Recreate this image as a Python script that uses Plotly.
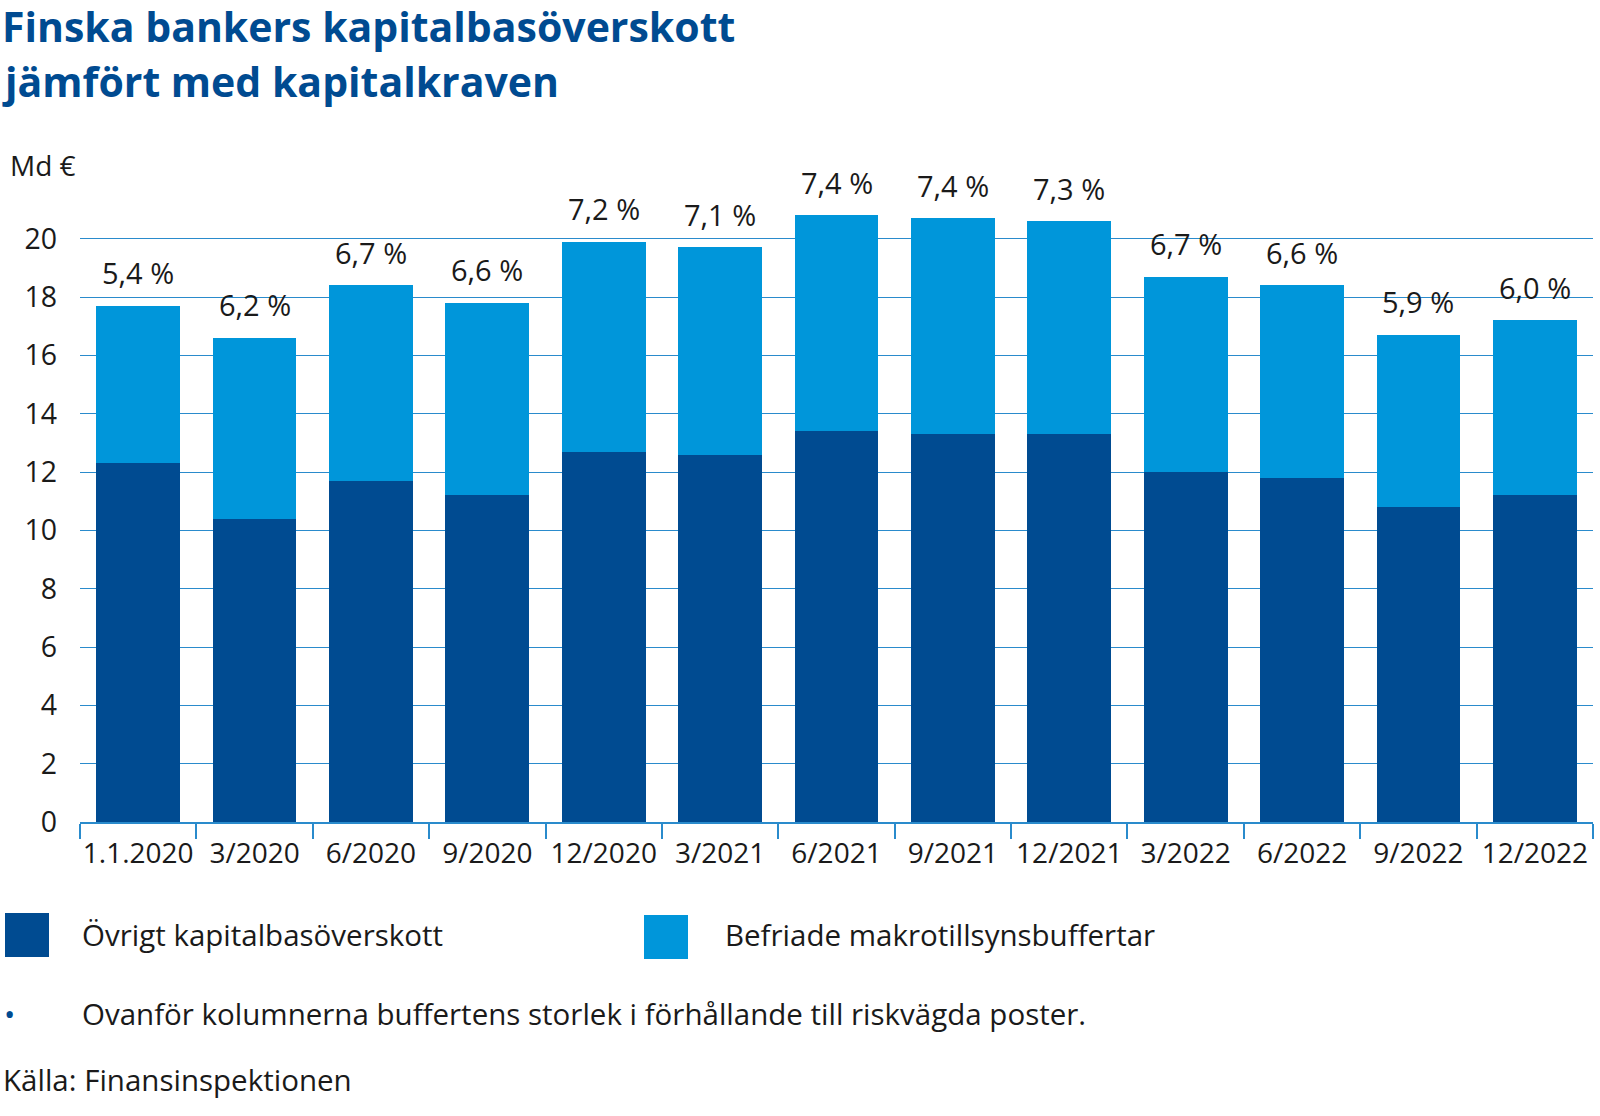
import plotly.graph_objects as go

categories = ["1.1.2020", "3/2020", "6/2020", "9/2020", "12/2020", "3/2021", "6/2021",
              "9/2021", "12/2021", "3/2022", "6/2022", "9/2022", "12/2022"]
other_surplus = [12.3, 10.4, 11.7, 11.2, 12.7, 12.6, 13.4, 13.3, 13.3, 12.0, 11.8, 10.8, 11.2]
totals = [17.7, 16.6, 18.4, 17.8, 19.9, 19.7, 20.8, 20.7, 20.6, 18.7, 18.4, 16.7, 17.2]
buffer_pct = ["5,4 %", "6,2 %", "6,7 %", "6,6 %", "7,2 %", "7,1 %", "7,4 %",
              "7,4 %", "7,3 %", "6,7 %", "6,6 %", "5,9 %", "6,0 %"]
released_values = [round(t - o, 2) for t, o in zip(totals, other_surplus)]
yticks = [0, 2, 4, 6, 8, 10, 12, 14, 16, 18, 20]
title_lines = ["Finska bankers kapitalbasöverskott", "jämfört med kapitalkraven"]

DARK = "#004b91"
LIGHT = "#0096da"
GRID = "#2a8bcc"
TXT = "#1a1a1a"
FONT = "Open Sans"

W, H = 1600, 1116
L, R, T, B = 80, 7, 192, 294
PW, PH = W - L - R, H - T - B

fig = go.Figure()
fig.add_trace(go.Bar(x=categories, y=other_surplus, name="Övrigt kapitalbasöverskott",
                     marker=dict(color=DARK, line=dict(width=0)), showlegend=False))
fig.add_trace(go.Bar(x=categories, y=released_values, name="Befriade makrotillsynsbuffertar",
                     marker=dict(color=LIGHT, line=dict(width=0)), showlegend=False))

annotations = []
for c, t, p in zip(categories, totals, buffer_pct):
    annotations.append(dict(x=c, y=t, xref="x", yref="y", text=p, showarrow=False,
                            yanchor="middle", yshift=33,
                            font=dict(family=FONT, size=29, color=TXT)))

def px_x(px):
    return (px - L) / PW

def px_y(py):
    return (H - B - py) / PH

# title (two lines)
for line, ypx in zip(title_lines, [26, 81]):
    annotations.append(dict(x=px_x(0), y=px_y(ypx), xref="paper", yref="paper", xanchor="left",
                            yanchor="middle", align="left", showarrow=False,
                            text="<b>" + line + "</b>",
                            font=dict(family=FONT, size=41, color="#004b91")))
# unit
annotations.append(dict(x=px_x(8), y=px_y(165), xref="paper", yref="paper", xanchor="left",
                        yanchor="middle", showarrow=False, text="Md €",
                        font=dict(family=FONT, size=28, color=TXT)))
# legend texts
annotations.append(dict(x=px_x(80), y=px_y(934), xref="paper", yref="paper", xanchor="left",
                        yanchor="middle", showarrow=False, text="Övrigt kapitalbasöverskott",
                        font=dict(family=FONT, size=29.5, color=TXT)))
annotations.append(dict(x=px_x(723), y=px_y(934), xref="paper", yref="paper", xanchor="left",
                        yanchor="middle", showarrow=False, text="Befriade makrotillsynsbuffertar",
                        font=dict(family=FONT, size=29.5, color=TXT)))
# note
annotations.append(dict(x=px_x(2), y=px_y(1013), xref="paper", yref="paper", xanchor="left",
                        yanchor="middle", showarrow=False, text="•",
                        font=dict(family=FONT, size=30, color=DARK)))
annotations.append(dict(x=px_x(80), y=px_y(1013), xref="paper", yref="paper", xanchor="left",
                        yanchor="middle", showarrow=False,
                        text="Ovanför kolumnerna buffertens storlek i förhållande till riskvägda poster.",
                        font=dict(family=FONT, size=29.5, color=TXT)))
annotations.append(dict(x=px_x(1), y=px_y(1079), xref="paper", yref="paper", xanchor="left",
                        yanchor="middle", showarrow=False, text="Källa: Finansinspektionen",
                        font=dict(family=FONT, size=29.5, color=TXT)))

shapes = [
    dict(type="rect", xref="paper", yref="paper", x0=px_x(5), x1=px_x(49),
         y0=px_y(957), y1=px_y(913), fillcolor=DARK, line=dict(width=0)),
    dict(type="rect", xref="paper", yref="paper", x0=px_x(644), x1=px_x(688),
         y0=px_y(959), y1=px_y(915), fillcolor=LIGHT, line=dict(width=0)),
]

fig.update_layout(
    width=W, height=H, barmode="stack", bargap=0.28,
    margin=dict(l=L, r=R, t=T, b=B, autoexpand=False),
    paper_bgcolor="white", plot_bgcolor="white",
    font=dict(family=FONT, size=28, color=TXT),
    annotations=annotations, shapes=shapes,
    xaxis=dict(showgrid=False, showline=True, linecolor=GRID, linewidth=1.5,
               ticks="outside", tickson="boundaries", ticklen=15, tickcolor=GRID, tickwidth=1.5,
               ticklabelstandoff=6, tickangle=0,
               tickfont=dict(family=FONT, size=28, color=TXT)),
    yaxis=dict(range=[0, 21.6], tickvals=yticks, showgrid=True, gridcolor=GRID, gridwidth=1,
               zeroline=False, showline=False, ticks="", ticklabelstandoff=22,
               tickfont=dict(family=FONT, size=28.5, color=TXT)),
)

fig.write_html("out.html", config={"displayModeBar": False},
               post_script="document.body.style.margin='0';document.body.style.overflow='hidden';")
